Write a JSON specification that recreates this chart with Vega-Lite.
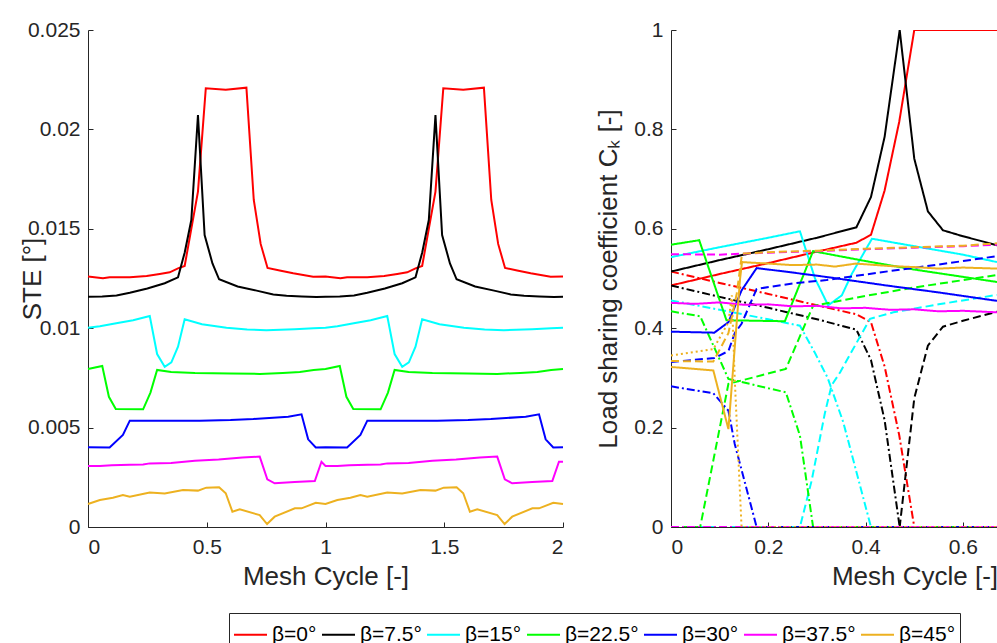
{
  "$schema": "https://vega.github.io/schema/vega-lite/v6.json",
  "autosize": {"type": "none"},
  "padding": {"left": 88, "top": 30, "right": 909, "bottom": 613},
  "background": "white",
  "config": {
    "view": {"stroke": null},
    "font": "Liberation Sans",
    "axis": {
      "grid": false,
      "domainColor": "#262626",
      "tickColor": "#262626",
      "labelColor": "#262626",
      "titleColor": "#262626",
      "labelFont": "Liberation Sans",
      "titleFont": "Liberation Sans",
      "labelFontSize": 21,
      "titleFontSize": 26,
      "titleFontWeight": "normal",
      "tickSize": -5,
      "tickWidth": 1,
      "domainWidth": 1
    },
    "axisX": {"labelPadding": 14},
    "axisY": {"labelPadding": 13},
    "legend": {
      "orient": "none",
      "legendX": 141,
      "legendY": 583,
      "direction": "horizontal",
      "symbolType": "stroke",
      "symbolSize": 1089,
      "symbolStrokeWidth": 2,
      "labelFont": "Liberation Sans",
      "labelFontSize": 21,
      "labelColor": "#000000",
      "strokeColor": "#262626",
      "fillColor": "white",
      "padding": 4,
      "columnPadding": 1,
      "labelOffset": 4
    }
  },
  "datasets": {
    "ste": [
      {"s": "β=0°", "x": 0, "y": 0.0126}, {"s": "β=0°", "x": 0.063, "y": 0.01251}, {"s": "β=0°", "x": 0.091, "y": 0.01256}, {"s": "β=0°", "x": 0.176, "y": 0.01256}, {"s": "β=0°", "x": 0.247, "y": 0.01263}, {"s": "β=0°", "x": 0.302, "y": 0.01273}, {"s": "β=0°", "x": 0.344, "y": 0.01281}, {"s": "β=0°", "x": 0.379, "y": 0.01301}, {"s": "β=0°", "x": 0.407, "y": 0.01313}, {"s": "β=0°", "x": 0.463, "y": 0.01687}, {"s": "β=0°", "x": 0.496, "y": 0.02207}, {"s": "β=0°", "x": 0.58, "y": 0.022}, {"s": "β=0°", "x": 0.667, "y": 0.0221}, {"s": "β=0°", "x": 0.698, "y": 0.01645}, {"s": "β=0°", "x": 0.727, "y": 0.01424}, {"s": "β=0°", "x": 0.756, "y": 0.01303}, {"s": "β=0°", "x": 0.807, "y": 0.0129}, {"s": "β=0°", "x": 0.864, "y": 0.01276}, {"s": "β=0°", "x": 0.948, "y": 0.01259},
      {"s": "β=0°", "x": 1, "y": 0.0126}, {"s": "β=0°", "x": 1.063, "y": 0.01251}, {"s": "β=0°", "x": 1.091, "y": 0.01256}, {"s": "β=0°", "x": 1.176, "y": 0.01256}, {"s": "β=0°", "x": 1.247, "y": 0.01263}, {"s": "β=0°", "x": 1.302, "y": 0.01273}, {"s": "β=0°", "x": 1.344, "y": 0.01281}, {"s": "β=0°", "x": 1.379, "y": 0.01301}, {"s": "β=0°", "x": 1.407, "y": 0.01313}, {"s": "β=0°", "x": 1.463, "y": 0.01687}, {"s": "β=0°", "x": 1.496, "y": 0.02207}, {"s": "β=0°", "x": 1.58, "y": 0.022}, {"s": "β=0°", "x": 1.667, "y": 0.0221}, {"s": "β=0°", "x": 1.698, "y": 0.01645}, {"s": "β=0°", "x": 1.727, "y": 0.01424}, {"s": "β=0°", "x": 1.756, "y": 0.01303}, {"s": "β=0°", "x": 1.807, "y": 0.0129}, {"s": "β=0°", "x": 1.864, "y": 0.01276}, {"s": "β=0°", "x": 1.948, "y": 0.01259}, {"s": "β=0°", "x": 2, "y": 0.0126},

      {"s": "β=7.5°", "x": 0, "y": 0.01158}, {"s": "β=7.5°", "x": 0.06, "y": 0.0116}, {"s": "β=7.5°", "x": 0.12, "y": 0.01165}, {"s": "β=7.5°", "x": 0.176, "y": 0.01178}, {"s": "β=7.5°", "x": 0.25, "y": 0.012}, {"s": "β=7.5°", "x": 0.323, "y": 0.01226}, {"s": "β=7.5°", "x": 0.379, "y": 0.01256}, {"s": "β=7.5°", "x": 0.407, "y": 0.0138}, {"s": "β=7.5°", "x": 0.435, "y": 0.01544}, {"s": "β=7.5°", "x": 0.463, "y": 0.02072}, {"s": "β=7.5°", "x": 0.491, "y": 0.01469}, {"s": "β=7.5°", "x": 0.524, "y": 0.01326}, {"s": "β=7.5°", "x": 0.552, "y": 0.01246}, {"s": "β=7.5°", "x": 0.63, "y": 0.0121}, {"s": "β=7.5°", "x": 0.71, "y": 0.01189}, {"s": "β=7.5°", "x": 0.78, "y": 0.0117}, {"s": "β=7.5°", "x": 0.836, "y": 0.01163}, {"s": "β=7.5°", "x": 0.9, "y": 0.0116}, {"s": "β=7.5°", "x": 0.962, "y": 0.01157},
      {"s": "β=7.5°", "x": 1, "y": 0.01158}, {"s": "β=7.5°", "x": 1.06, "y": 0.0116}, {"s": "β=7.5°", "x": 1.12, "y": 0.01165}, {"s": "β=7.5°", "x": 1.176, "y": 0.01178}, {"s": "β=7.5°", "x": 1.25, "y": 0.012}, {"s": "β=7.5°", "x": 1.323, "y": 0.01226}, {"s": "β=7.5°", "x": 1.379, "y": 0.01256}, {"s": "β=7.5°", "x": 1.407, "y": 0.0138}, {"s": "β=7.5°", "x": 1.435, "y": 0.01544}, {"s": "β=7.5°", "x": 1.463, "y": 0.02072}, {"s": "β=7.5°", "x": 1.491, "y": 0.01469}, {"s": "β=7.5°", "x": 1.524, "y": 0.01326}, {"s": "β=7.5°", "x": 1.552, "y": 0.01246}, {"s": "β=7.5°", "x": 1.63, "y": 0.0121}, {"s": "β=7.5°", "x": 1.71, "y": 0.01189}, {"s": "β=7.5°", "x": 1.78, "y": 0.0117}, {"s": "β=7.5°", "x": 1.836, "y": 0.01163}, {"s": "β=7.5°", "x": 1.9, "y": 0.0116}, {"s": "β=7.5°", "x": 1.962, "y": 0.01157}, {"s": "β=7.5°", "x": 2, "y": 0.01158},

      {"s": "β=15°", "x": 0, "y": 0.01002}, {"s": "β=15°", "x": 0.05, "y": 0.0101}, {"s": "β=15°", "x": 0.119, "y": 0.01025}, {"s": "β=15°", "x": 0.19, "y": 0.0104}, {"s": "β=15°", "x": 0.26, "y": 0.01061}, {"s": "β=15°", "x": 0.291, "y": 0.0087}, {"s": "β=15°", "x": 0.323, "y": 0.00806}, {"s": "β=15°", "x": 0.351, "y": 0.00828}, {"s": "β=15°", "x": 0.379, "y": 0.00907}, {"s": "β=15°", "x": 0.407, "y": 0.01045}, {"s": "β=15°", "x": 0.48, "y": 0.0102}, {"s": "β=15°", "x": 0.583, "y": 0.01002}, {"s": "β=15°", "x": 0.67, "y": 0.00993}, {"s": "β=15°", "x": 0.751, "y": 0.0099}, {"s": "β=15°", "x": 0.87, "y": 0.00995}, {"s": "β=15°", "x": 0.95, "y": 0.01},
      {"s": "β=15°", "x": 1, "y": 0.01002}, {"s": "β=15°", "x": 1.05, "y": 0.0101}, {"s": "β=15°", "x": 1.119, "y": 0.01025}, {"s": "β=15°", "x": 1.19, "y": 0.0104}, {"s": "β=15°", "x": 1.26, "y": 0.01061}, {"s": "β=15°", "x": 1.291, "y": 0.0087}, {"s": "β=15°", "x": 1.323, "y": 0.00806}, {"s": "β=15°", "x": 1.351, "y": 0.00828}, {"s": "β=15°", "x": 1.379, "y": 0.00907}, {"s": "β=15°", "x": 1.407, "y": 0.01045}, {"s": "β=15°", "x": 1.48, "y": 0.0102}, {"s": "β=15°", "x": 1.583, "y": 0.01002}, {"s": "β=15°", "x": 1.67, "y": 0.00993}, {"s": "β=15°", "x": 1.751, "y": 0.0099}, {"s": "β=15°", "x": 1.87, "y": 0.00995}, {"s": "β=15°", "x": 1.95, "y": 0.01}, {"s": "β=15°", "x": 2, "y": 0.01002},

      {"s": "β=22.5°", "x": 0, "y": 0.00795}, {"s": "β=22.5°", "x": 0.06, "y": 0.0081}, {"s": "β=22.5°", "x": 0.088, "y": 0.00655}, {"s": "β=22.5°", "x": 0.117, "y": 0.00594}, {"s": "β=22.5°", "x": 0.232, "y": 0.00592}, {"s": "β=22.5°", "x": 0.263, "y": 0.00676}, {"s": "β=22.5°", "x": 0.291, "y": 0.0079}, {"s": "β=22.5°", "x": 0.35, "y": 0.0078}, {"s": "β=22.5°", "x": 0.45, "y": 0.00775}, {"s": "β=22.5°", "x": 0.6, "y": 0.00772}, {"s": "β=22.5°", "x": 0.723, "y": 0.0077}, {"s": "β=22.5°", "x": 0.82, "y": 0.00775}, {"s": "β=22.5°", "x": 0.892, "y": 0.0078}, {"s": "β=22.5°", "x": 0.95, "y": 0.0079},
      {"s": "β=22.5°", "x": 1, "y": 0.00795}, {"s": "β=22.5°", "x": 1.06, "y": 0.0081}, {"s": "β=22.5°", "x": 1.088, "y": 0.00655}, {"s": "β=22.5°", "x": 1.117, "y": 0.00594}, {"s": "β=22.5°", "x": 1.232, "y": 0.00592}, {"s": "β=22.5°", "x": 1.263, "y": 0.00676}, {"s": "β=22.5°", "x": 1.291, "y": 0.0079}, {"s": "β=22.5°", "x": 1.35, "y": 0.0078}, {"s": "β=22.5°", "x": 1.45, "y": 0.00775}, {"s": "β=22.5°", "x": 1.6, "y": 0.00772}, {"s": "β=22.5°", "x": 1.723, "y": 0.0077}, {"s": "β=22.5°", "x": 1.82, "y": 0.00775}, {"s": "β=22.5°", "x": 1.892, "y": 0.0078}, {"s": "β=22.5°", "x": 1.95, "y": 0.0079}, {"s": "β=22.5°", "x": 2, "y": 0.00795},

      {"s": "β=30°", "x": 0, "y": 0.00401}, {"s": "β=30°", "x": 0.091, "y": 0.004}, {"s": "β=30°", "x": 0.147, "y": 0.00463}, {"s": "β=30°", "x": 0.176, "y": 0.00535}, {"s": "β=30°", "x": 0.3, "y": 0.00535}, {"s": "β=30°", "x": 0.47, "y": 0.00535}, {"s": "β=30°", "x": 0.6, "y": 0.00538}, {"s": "β=30°", "x": 0.696, "y": 0.00543}, {"s": "β=30°", "x": 0.843, "y": 0.00555}, {"s": "β=30°", "x": 0.899, "y": 0.00567}, {"s": "β=30°", "x": 0.927, "y": 0.00441}, {"s": "β=30°", "x": 0.959, "y": 0.004},
      {"s": "β=30°", "x": 1, "y": 0.00401}, {"s": "β=30°", "x": 1.091, "y": 0.004}, {"s": "β=30°", "x": 1.147, "y": 0.00463}, {"s": "β=30°", "x": 1.176, "y": 0.00535}, {"s": "β=30°", "x": 1.3, "y": 0.00535}, {"s": "β=30°", "x": 1.47, "y": 0.00535}, {"s": "β=30°", "x": 1.6, "y": 0.00538}, {"s": "β=30°", "x": 1.696, "y": 0.00543}, {"s": "β=30°", "x": 1.843, "y": 0.00555}, {"s": "β=30°", "x": 1.899, "y": 0.00567}, {"s": "β=30°", "x": 1.927, "y": 0.00441}, {"s": "β=30°", "x": 1.959, "y": 0.004}, {"s": "β=30°", "x": 2, "y": 0.00401},

      {"s": "β=37.5°", "x": 0, "y": 0.00307}, {"s": "β=37.5°", "x": 0.05, "y": 0.00307}, {"s": "β=37.5°", "x": 0.1, "y": 0.0031}, {"s": "β=37.5°", "x": 0.176, "y": 0.00313}, {"s": "β=37.5°", "x": 0.232, "y": 0.00315}, {"s": "β=37.5°", "x": 0.26, "y": 0.0032}, {"s": "β=37.5°", "x": 0.35, "y": 0.00322}, {"s": "β=37.5°", "x": 0.45, "y": 0.00333}, {"s": "β=37.5°", "x": 0.55, "y": 0.0034}, {"s": "β=37.5°", "x": 0.65, "y": 0.0035}, {"s": "β=37.5°", "x": 0.723, "y": 0.00354}, {"s": "β=37.5°", "x": 0.755, "y": 0.0024}, {"s": "β=37.5°", "x": 0.786, "y": 0.0022}, {"s": "β=37.5°", "x": 0.87, "y": 0.00226}, {"s": "β=37.5°", "x": 0.955, "y": 0.00231}, {"s": "β=37.5°", "x": 0.983, "y": 0.00328},
      {"s": "β=37.5°", "x": 1, "y": 0.00307}, {"s": "β=37.5°", "x": 1.05, "y": 0.00307}, {"s": "β=37.5°", "x": 1.1, "y": 0.0031}, {"s": "β=37.5°", "x": 1.176, "y": 0.00313}, {"s": "β=37.5°", "x": 1.232, "y": 0.00315}, {"s": "β=37.5°", "x": 1.26, "y": 0.0032}, {"s": "β=37.5°", "x": 1.35, "y": 0.00322}, {"s": "β=37.5°", "x": 1.45, "y": 0.00333}, {"s": "β=37.5°", "x": 1.55, "y": 0.0034}, {"s": "β=37.5°", "x": 1.65, "y": 0.0035}, {"s": "β=37.5°", "x": 1.723, "y": 0.00354}, {"s": "β=37.5°", "x": 1.755, "y": 0.0024}, {"s": "β=37.5°", "x": 1.786, "y": 0.0022}, {"s": "β=37.5°", "x": 1.87, "y": 0.00226}, {"s": "β=37.5°", "x": 1.955, "y": 0.00231}, {"s": "β=37.5°", "x": 1.983, "y": 0.00328}, {"s": "β=37.5°", "x": 2, "y": 0.00328},

      {"s": "β=45°", "x": 0, "y": 0.00116}, {"s": "β=45°", "x": 0.05, "y": 0.00136}, {"s": "β=45°", "x": 0.105, "y": 0.00147}, {"s": "β=45°", "x": 0.147, "y": 0.00161}, {"s": "β=45°", "x": 0.176, "y": 0.00152}, {"s": "β=45°", "x": 0.26, "y": 0.00174}, {"s": "β=45°", "x": 0.323, "y": 0.00169}, {"s": "β=45°", "x": 0.4, "y": 0.00186}, {"s": "β=45°", "x": 0.463, "y": 0.00183}, {"s": "β=45°", "x": 0.498, "y": 0.00198}, {"s": "β=45°", "x": 0.552, "y": 0.002}, {"s": "β=45°", "x": 0.58, "y": 0.0017}, {"s": "β=45°", "x": 0.608, "y": 0.00077}, {"s": "β=45°", "x": 0.639, "y": 0.00089}, {"s": "β=45°", "x": 0.723, "y": 0.0006}, {"s": "β=45°", "x": 0.754, "y": 0.00015}, {"s": "β=45°", "x": 0.786, "y": 0.00052}, {"s": "β=45°", "x": 0.871, "y": 0.00094}, {"s": "β=45°", "x": 0.899, "y": 0.00094}, {"s": "β=45°", "x": 0.959, "y": 0.00122},
      {"s": "β=45°", "x": 1, "y": 0.00116}, {"s": "β=45°", "x": 1.05, "y": 0.00136}, {"s": "β=45°", "x": 1.105, "y": 0.00147}, {"s": "β=45°", "x": 1.147, "y": 0.00161}, {"s": "β=45°", "x": 1.176, "y": 0.00152}, {"s": "β=45°", "x": 1.26, "y": 0.00174}, {"s": "β=45°", "x": 1.323, "y": 0.00169}, {"s": "β=45°", "x": 1.4, "y": 0.00186}, {"s": "β=45°", "x": 1.463, "y": 0.00183}, {"s": "β=45°", "x": 1.498, "y": 0.00198}, {"s": "β=45°", "x": 1.552, "y": 0.002}, {"s": "β=45°", "x": 1.58, "y": 0.0017}, {"s": "β=45°", "x": 1.608, "y": 0.00077}, {"s": "β=45°", "x": 1.639, "y": 0.00089}, {"s": "β=45°", "x": 1.723, "y": 0.0006}, {"s": "β=45°", "x": 1.754, "y": 0.00015}, {"s": "β=45°", "x": 1.786, "y": 0.00052}, {"s": "β=45°", "x": 1.871, "y": 0.00094}, {"s": "β=45°", "x": 1.899, "y": 0.00094}, {"s": "β=45°", "x": 1.959, "y": 0.00122}, {"s": "β=45°", "x": 2, "y": 0.00116}
    ],
    "lsc": [
      {"s": "β=0°", "p": "A", "x": 0, "y": 0.486}, {"s": "β=0°", "p": "A", "x": 0.1, "y": 0.509}, {"s": "β=0°", "p": "A", "x": 0.2, "y": 0.531}, {"s": "β=0°", "p": "A", "x": 0.3, "y": 0.554}, {"s": "β=0°", "p": "A", "x": 0.381, "y": 0.572}, {"s": "β=0°", "p": "A", "x": 0.411, "y": 0.588}, {"s": "β=0°", "p": "A", "x": 0.439, "y": 0.677}, {"s": "β=0°", "p": "A", "x": 0.469, "y": 0.815}, {"s": "β=0°", "p": "A", "x": 0.5, "y": 1}, {"s": "β=0°", "p": "A", "x": 0.67, "y": 1},
      {"s": "β=0°", "p": "B", "x": 0, "y": 0.514}, {"s": "β=0°", "p": "B", "x": 0.1, "y": 0.491}, {"s": "β=0°", "p": "B", "x": 0.2, "y": 0.469}, {"s": "β=0°", "p": "B", "x": 0.3, "y": 0.446}, {"s": "β=0°", "p": "B", "x": 0.381, "y": 0.428}, {"s": "β=0°", "p": "B", "x": 0.411, "y": 0.412}, {"s": "β=0°", "p": "B", "x": 0.439, "y": 0.323}, {"s": "β=0°", "p": "B", "x": 0.469, "y": 0.185}, {"s": "β=0°", "p": "B", "x": 0.5, "y": 0}, {"s": "β=0°", "p": "B", "x": 0.67, "y": 0},

      {"s": "β=7.5°", "p": "A", "x": 0, "y": 0.514}, {"s": "β=7.5°", "p": "A", "x": 0.1, "y": 0.537}, {"s": "β=7.5°", "p": "A", "x": 0.2, "y": 0.559}, {"s": "β=7.5°", "p": "A", "x": 0.3, "y": 0.582}, {"s": "β=7.5°", "p": "A", "x": 0.381, "y": 0.603}, {"s": "β=7.5°", "p": "A", "x": 0.411, "y": 0.664}, {"s": "β=7.5°", "p": "A", "x": 0.439, "y": 0.785}, {"s": "β=7.5°", "p": "A", "x": 0.47, "y": 1}, {"s": "β=7.5°", "p": "A", "x": 0.5, "y": 0.741}, {"s": "β=7.5°", "p": "A", "x": 0.528, "y": 0.635}, {"s": "β=7.5°", "p": "A", "x": 0.559, "y": 0.597}, {"s": "β=7.5°", "p": "A", "x": 0.6, "y": 0.585}, {"s": "β=7.5°", "p": "A", "x": 0.67, "y": 0.567},
      {"s": "β=7.5°", "p": "B", "x": 0, "y": 0.486}, {"s": "β=7.5°", "p": "B", "x": 0.1, "y": 0.463}, {"s": "β=7.5°", "p": "B", "x": 0.2, "y": 0.441}, {"s": "β=7.5°", "p": "B", "x": 0.3, "y": 0.418}, {"s": "β=7.5°", "p": "B", "x": 0.381, "y": 0.397}, {"s": "β=7.5°", "p": "B", "x": 0.411, "y": 0.336}, {"s": "β=7.5°", "p": "B", "x": 0.439, "y": 0.215}, {"s": "β=7.5°", "p": "B", "x": 0.47, "y": 0}, {"s": "β=7.5°", "p": "B", "x": 0.67, "y": 0},
      {"s": "β=7.5°", "p": "C", "x": 0, "y": 0}, {"s": "β=7.5°", "p": "C", "x": 0.47, "y": 0}, {"s": "β=7.5°", "p": "C", "x": 0.5, "y": 0.259}, {"s": "β=7.5°", "p": "C", "x": 0.528, "y": 0.365}, {"s": "β=7.5°", "p": "C", "x": 0.559, "y": 0.403}, {"s": "β=7.5°", "p": "C", "x": 0.6, "y": 0.415}, {"s": "β=7.5°", "p": "C", "x": 0.67, "y": 0.433},

      {"s": "β=15°", "p": "A", "x": 0, "y": 0.543}, {"s": "β=15°", "p": "A", "x": 0.1, "y": 0.563}, {"s": "β=15°", "p": "A", "x": 0.2, "y": 0.582}, {"s": "β=15°", "p": "A", "x": 0.265, "y": 0.595}, {"s": "β=15°", "p": "A", "x": 0.296, "y": 0.5}, {"s": "β=15°", "p": "A", "x": 0.323, "y": 0.446}, {"s": "β=15°", "p": "A", "x": 0.351, "y": 0.466}, {"s": "β=15°", "p": "A", "x": 0.372, "y": 0.51}, {"s": "β=15°", "p": "A", "x": 0.413, "y": 0.58}, {"s": "β=15°", "p": "A", "x": 0.5, "y": 0.565}, {"s": "β=15°", "p": "A", "x": 0.6, "y": 0.548}, {"s": "β=15°", "p": "A", "x": 0.67, "y": 0.533},
      {"s": "β=15°", "p": "B", "x": 0, "y": 0.456}, {"s": "β=15°", "p": "B", "x": 0.1, "y": 0.437}, {"s": "β=15°", "p": "B", "x": 0.2, "y": 0.418}, {"s": "β=15°", "p": "B", "x": 0.265, "y": 0.405}, {"s": "β=15°", "p": "B", "x": 0.296, "y": 0.35}, {"s": "β=15°", "p": "B", "x": 0.322, "y": 0.3}, {"s": "β=15°", "p": "B", "x": 0.354, "y": 0.211}, {"s": "β=15°", "p": "B", "x": 0.411, "y": 0}, {"s": "β=15°", "p": "B", "x": 0.67, "y": 0},
      {"s": "β=15°", "p": "C", "x": 0, "y": 0}, {"s": "β=15°", "p": "C", "x": 0.265, "y": 0}, {"s": "β=15°", "p": "C", "x": 0.289, "y": 0.093}, {"s": "β=15°", "p": "C", "x": 0.316, "y": 0.228}, {"s": "β=15°", "p": "C", "x": 0.33, "y": 0.285}, {"s": "β=15°", "p": "C", "x": 0.348, "y": 0.312}, {"s": "β=15°", "p": "C", "x": 0.409, "y": 0.419}, {"s": "β=15°", "p": "C", "x": 0.457, "y": 0.432}, {"s": "β=15°", "p": "C", "x": 0.55, "y": 0.448}, {"s": "β=15°", "p": "C", "x": 0.67, "y": 0.467},

      {"s": "β=22.5°", "p": "A", "x": 0, "y": 0.568}, {"s": "β=22.5°", "p": "A", "x": 0.058, "y": 0.577}, {"s": "β=22.5°", "p": "A", "x": 0.114, "y": 0.416}, {"s": "β=22.5°", "p": "A", "x": 0.234, "y": 0.414}, {"s": "β=22.5°", "p": "A", "x": 0.292, "y": 0.555}, {"s": "β=22.5°", "p": "A", "x": 0.4, "y": 0.535}, {"s": "β=22.5°", "p": "A", "x": 0.5, "y": 0.518}, {"s": "β=22.5°", "p": "A", "x": 0.67, "y": 0.493},
      {"s": "β=22.5°", "p": "B", "x": 0, "y": 0.434}, {"s": "β=22.5°", "p": "B", "x": 0.06, "y": 0.424}, {"s": "β=22.5°", "p": "B", "x": 0.118, "y": 0.298}, {"s": "β=22.5°", "p": "B", "x": 0.236, "y": 0.271}, {"s": "β=22.5°", "p": "B", "x": 0.265, "y": 0.184}, {"s": "β=22.5°", "p": "B", "x": 0.292, "y": 0}, {"s": "β=22.5°", "p": "B", "x": 0.67, "y": 0},
      {"s": "β=22.5°", "p": "C", "x": 0, "y": 0}, {"s": "β=22.5°", "p": "C", "x": 0.06, "y": 0}, {"s": "β=22.5°", "p": "C", "x": 0.118, "y": 0.288}, {"s": "β=22.5°", "p": "C", "x": 0.236, "y": 0.318}, {"s": "β=22.5°", "p": "C", "x": 0.292, "y": 0.445}, {"s": "β=22.5°", "p": "C", "x": 0.4, "y": 0.465}, {"s": "β=22.5°", "p": "C", "x": 0.5, "y": 0.482}, {"s": "β=22.5°", "p": "C", "x": 0.67, "y": 0.507},

      {"s": "β=30°", "p": "A", "x": 0, "y": 0.393}, {"s": "β=30°", "p": "A", "x": 0.089, "y": 0.391}, {"s": "β=30°", "p": "A", "x": 0.118, "y": 0.412}, {"s": "β=30°", "p": "A", "x": 0.145, "y": 0.476}, {"s": "β=30°", "p": "A", "x": 0.176, "y": 0.521}, {"s": "β=30°", "p": "A", "x": 0.25, "y": 0.512}, {"s": "β=30°", "p": "A", "x": 0.32, "y": 0.503}, {"s": "β=30°", "p": "A", "x": 0.45, "y": 0.485}, {"s": "β=30°", "p": "A", "x": 0.55, "y": 0.472}, {"s": "β=30°", "p": "A", "x": 0.67, "y": 0.455},
      {"s": "β=30°", "p": "B", "x": 0, "y": 0.283}, {"s": "β=30°", "p": "B", "x": 0.087, "y": 0.269}, {"s": "β=30°", "p": "B", "x": 0.118, "y": 0.234}, {"s": "β=30°", "p": "B", "x": 0.131, "y": 0.167}, {"s": "β=30°", "p": "B", "x": 0.176, "y": 0}, {"s": "β=30°", "p": "B", "x": 0.67, "y": 0},
      {"s": "β=30°", "p": "C", "x": 0, "y": 0.332}, {"s": "β=30°", "p": "C", "x": 0.089, "y": 0.34}, {"s": "β=30°", "p": "C", "x": 0.118, "y": 0.354}, {"s": "β=30°", "p": "C", "x": 0.131, "y": 0.39}, {"s": "β=30°", "p": "C", "x": 0.145, "y": 0.409}, {"s": "β=30°", "p": "C", "x": 0.176, "y": 0.479}, {"s": "β=30°", "p": "C", "x": 0.25, "y": 0.49}, {"s": "β=30°", "p": "C", "x": 0.32, "y": 0.497}, {"s": "β=30°", "p": "C", "x": 0.45, "y": 0.515}, {"s": "β=30°", "p": "C", "x": 0.55, "y": 0.528}, {"s": "β=30°", "p": "C", "x": 0.67, "y": 0.545},

      {"s": "β=37.5°", "p": "A", "x": 0, "y": 0.451}, {"s": "β=37.5°", "p": "A", "x": 0.05, "y": 0.449}, {"s": "β=37.5°", "p": "A", "x": 0.1, "y": 0.452}, {"s": "β=37.5°", "p": "A", "x": 0.15, "y": 0.447}, {"s": "β=37.5°", "p": "A", "x": 0.2, "y": 0.448}, {"s": "β=37.5°", "p": "A", "x": 0.25, "y": 0.444}, {"s": "β=37.5°", "p": "A", "x": 0.3, "y": 0.445}, {"s": "β=37.5°", "p": "A", "x": 0.35, "y": 0.44}, {"s": "β=37.5°", "p": "A", "x": 0.4, "y": 0.441}, {"s": "β=37.5°", "p": "A", "x": 0.45, "y": 0.437}, {"s": "β=37.5°", "p": "A", "x": 0.5, "y": 0.438}, {"s": "β=37.5°", "p": "A", "x": 0.55, "y": 0.434}, {"s": "β=37.5°", "p": "A", "x": 0.6, "y": 0.435}, {"s": "β=37.5°", "p": "A", "x": 0.67, "y": 0.432},
      {"s": "β=37.5°", "p": "B", "x": 0, "y": 0}, {"s": "β=37.5°", "p": "B", "x": 0.67, "y": 0},
      {"s": "β=37.5°", "p": "C", "x": 0, "y": 0.549}, {"s": "β=37.5°", "p": "C", "x": 0.1, "y": 0.548}, {"s": "β=37.5°", "p": "C", "x": 0.2, "y": 0.552}, {"s": "β=37.5°", "p": "C", "x": 0.3, "y": 0.555}, {"s": "β=37.5°", "p": "C", "x": 0.4, "y": 0.559}, {"s": "β=37.5°", "p": "C", "x": 0.5, "y": 0.562}, {"s": "β=37.5°", "p": "C", "x": 0.6, "y": 0.565}, {"s": "β=37.5°", "p": "C", "x": 0.67, "y": 0.568},

      {"s": "β=45°", "p": "A", "x": 0, "y": 0.322}, {"s": "β=45°", "p": "A", "x": 0.087, "y": 0.315}, {"s": "β=45°", "p": "A", "x": 0.118, "y": 0.197}, {"s": "β=45°", "p": "A", "x": 0.142, "y": 0.5}, {"s": "β=45°", "p": "A", "x": 0.146, "y": 0.533}, {"s": "β=45°", "p": "A", "x": 0.2, "y": 0.53}, {"s": "β=45°", "p": "A", "x": 0.25, "y": 0.527}, {"s": "β=45°", "p": "A", "x": 0.3, "y": 0.528}, {"s": "β=45°", "p": "A", "x": 0.337, "y": 0.524}, {"s": "β=45°", "p": "A", "x": 0.38, "y": 0.53}, {"s": "β=45°", "p": "A", "x": 0.409, "y": 0.528}, {"s": "β=45°", "p": "A", "x": 0.45, "y": 0.525}, {"s": "β=45°", "p": "A", "x": 0.5, "y": 0.523}, {"s": "β=45°", "p": "A", "x": 0.55, "y": 0.52}, {"s": "β=45°", "p": "A", "x": 0.6, "y": 0.522}, {"s": "β=45°", "p": "A", "x": 0.67, "y": 0.52},
      {"s": "β=45°", "p": "C", "x": 0, "y": 0.334}, {"s": "β=45°", "p": "C", "x": 0.087, "y": 0.333}, {"s": "β=45°", "p": "C", "x": 0.118, "y": 0.39}, {"s": "β=45°", "p": "C", "x": 0.135, "y": 0.469}, {"s": "β=45°", "p": "C", "x": 0.146, "y": 0.55}, {"s": "β=45°", "p": "C", "x": 0.2, "y": 0.553}, {"s": "β=45°", "p": "C", "x": 0.3, "y": 0.556}, {"s": "β=45°", "p": "C", "x": 0.4, "y": 0.56}, {"s": "β=45°", "p": "C", "x": 0.5, "y": 0.563}, {"s": "β=45°", "p": "C", "x": 0.6, "y": 0.566}, {"s": "β=45°", "p": "C", "x": 0.67, "y": 0.571},
      {"s": "β=45°", "p": "D", "x": 0, "y": 0.345}, {"s": "β=45°", "p": "D", "x": 0.087, "y": 0.358}, {"s": "β=45°", "p": "D", "x": 0.118, "y": 0.412}, {"s": "β=45°", "p": "D", "x": 0.125, "y": 0.466}, {"s": "β=45°", "p": "D", "x": 0.131, "y": 0.298}, {"s": "β=45°", "p": "D", "x": 0.145, "y": 0}, {"s": "β=45°", "p": "D", "x": 0.67, "y": 0}
    ]
  },
  "spacing": 108,
  "bounds": "flush",
  "hconcat": [
    {
      "width": 475,
      "height": 497,
      "data": {"name": "ste"},
      "mark": {"type": "line", "strokeWidth": 2},
      "encoding": {
        "x": {"field": "x", "type": "quantitative", "scale": {"domain": [0, 2], "nice": false}, "axis": {"values": [0, 0.5, 1, 1.5, 2], "format": "~g", "title": "Mesh Cycle [-]", "titlePadding": 6}},
        "y": {"field": "y", "type": "quantitative", "scale": {"domain": [0, 0.025], "nice": false}, "axis": {"values": [0, 0.005, 0.01, 0.015, 0.02, 0.025], "format": "~g", "title": "STE [°]", "titlePadding": -18}},
        "color": {
          "field": "s", "type": "nominal",
          "scale": {"domain": ["β=0°", "β=7.5°", "β=15°", "β=22.5°", "β=30°", "β=37.5°", "β=45°"], "range": ["#FF0000", "#000000", "#00FFFF", "#00FF00", "#0000FF", "#FF00FF", "#EDB120"]},
          "legend": {"title": null}
        }
      }
    },
    {
      "width": 326,
      "height": 497,
      "data": {"name": "lsc"},
      "mark": {"type": "line", "strokeWidth": 2, "clip": true},
      "encoding": {
        "x": {"field": "x", "type": "quantitative", "scale": {"domain": [0, 0.67], "nice": false}, "axis": {"values": [0, 0.2, 0.4, 0.6], "format": "~g", "title": "Mesh Cycle [-]", "titlePadding": 6, "titleX": 243.5}},
        "y": {"field": "y", "type": "quantitative", "scale": {"domain": [0, 1], "nice": false}, "axis": {"values": [0, 0.2, 0.4, 0.6, 0.8, 1], "format": "~g", "title": "Load sharing coefficient Cₖ [-]", "titlePadding": 12}},
        "color": {"field": "s", "type": "nominal"},
        "strokeDash": {"field": "p", "type": "nominal", "scale": {"domain": ["A", "B", "C", "D"], "range": [[1, 0], [8, 3, 2, 3], [8, 4], [2, 3]]}, "legend": null}
      }
    }
  ]
}
